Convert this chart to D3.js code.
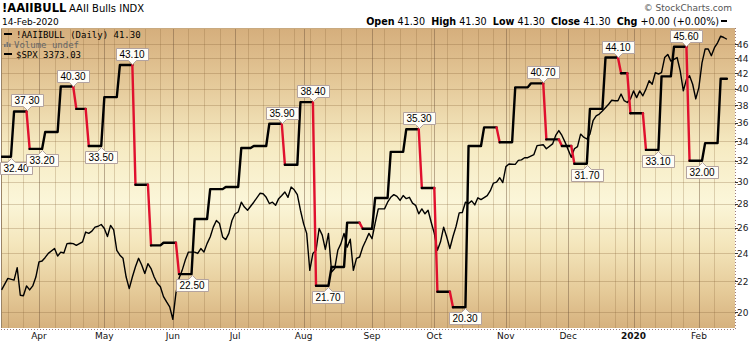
<!DOCTYPE html>
<html>
<head>
<meta charset="utf-8">
<script src="https://cdn.jsdelivr.net/npm/d3@7"></script>
<style>
  body { margin: 0; background: #fff; }
  svg { display: block; font-family: "DejaVu Sans", Verdana, sans-serif; }
</style>
</head>
<body>
<svg id="chart" width="752" height="342"></svg>
<script>
// AAII bullish % readings, dated the way the chart plots them
var aaiiDates = ["2019-03-13","2019-03-20","2019-03-27","2019-04-03","2019-04-10","2019-04-17","2019-04-24",
  "2019-05-01","2019-05-08","2019-05-15","2019-05-22","2019-05-29","2019-06-05","2019-06-12","2019-06-19",
  "2019-06-26","2019-07-03","2019-07-10","2019-07-17","2019-07-24","2019-07-31","2019-08-07","2019-08-14",
  "2019-08-21","2019-08-28","2019-09-04","2019-09-11","2019-09-18","2019-09-25","2019-10-02","2019-10-09",
  "2019-10-16","2019-10-23","2019-10-30","2019-11-06","2019-11-13","2019-11-20","2019-11-27","2019-12-04",
  "2019-12-11","2019-12-18","2019-12-26","2019-12-31","2020-01-08","2020-01-15","2020-01-22","2020-01-29",
  "2020-02-05","2020-02-12"];
var aaiiValues = [32.4,37.3,33.2,35.0,40.3,37.6,33.5,
  39.0,43.1,29.7,24.6,24.8,22.5,26.7,29.3,
  29.5,33.3,33.5,35.9,31.6,38.4,21.7,23.0,
  26.4,25.9,28.5,32.9,35.3,29.4,21.3,20.3,
  33.5,35.5,33.9,40.2,40.7,34.2,33.5,31.7,
  37.6,44.1,42.0,37.1,33.1,41.6,45.6,32.0,
  33.8,41.3];

// readings that carry a value flag
var peakDates = ["2019-03-20","2019-04-10","2019-05-08","2019-07-17","2019-07-31","2019-09-18","2019-11-13","2019-12-18","2020-01-22"];
var troughDates = ["2019-03-13","2019-03-27","2019-04-24","2019-06-05","2019-08-07","2019-10-09","2019-12-04","2020-01-08","2020-01-29"];

// S&P 500 overlay (closes)
var spxDates = ["2019-03-14","2019-03-18","2019-03-20","2019-03-21","2019-03-22","2019-03-25","2019-03-26","2019-03-27",
  "2019-03-28","2019-03-29","2019-04-01","2019-04-02","2019-04-03","2019-04-04","2019-04-08","2019-04-09","2019-04-10",
  "2019-04-11","2019-04-12","2019-04-15","2019-04-16","2019-04-17","2019-04-18","2019-04-22","2019-04-23","2019-04-24",
  "2019-04-25","2019-04-26","2019-04-29","2019-04-30","2019-05-01","2019-05-02","2019-05-03","2019-05-06","2019-05-07",
  "2019-05-08","2019-05-09","2019-05-10","2019-05-13","2019-05-14","2019-05-15","2019-05-16","2019-05-17","2019-05-20",
  "2019-05-21","2019-05-22","2019-05-23","2019-05-24","2019-05-28","2019-05-29","2019-05-30","2019-05-31","2019-06-03",
  "2019-06-04","2019-06-05","2019-06-06","2019-06-07","2019-06-10","2019-06-12","2019-06-13","2019-06-14","2019-06-17",
  "2019-06-18","2019-06-19","2019-06-20","2019-06-21","2019-06-24","2019-06-25","2019-06-26","2019-06-27","2019-06-28",
  "2019-07-01","2019-07-02","2019-07-03","2019-07-05","2019-07-08","2019-07-10","2019-07-12","2019-07-15","2019-07-16",
  "2019-07-17","2019-07-18","2019-07-19","2019-07-22","2019-07-23","2019-07-24","2019-07-25","2019-07-26","2019-07-29",
  "2019-07-30","2019-07-31","2019-08-01","2019-08-02","2019-08-05","2019-08-06","2019-08-07","2019-08-08","2019-08-09",
  "2019-08-12","2019-08-13","2019-08-14","2019-08-15","2019-08-16","2019-08-19","2019-08-20","2019-08-21","2019-08-22",
  "2019-08-23","2019-08-26","2019-08-27","2019-08-28","2019-08-29","2019-08-30","2019-09-03","2019-09-04","2019-09-05",
  "2019-09-09","2019-09-10","2019-09-11","2019-09-12","2019-09-13","2019-09-16","2019-09-17","2019-09-18","2019-09-19",
  "2019-09-20","2019-09-23","2019-09-24","2019-09-25","2019-09-26","2019-09-27","2019-09-30","2019-10-01","2019-10-02",
  "2019-10-03","2019-10-04","2019-10-07","2019-10-08","2019-10-09","2019-10-10","2019-10-11","2019-10-14","2019-10-15",
  "2019-10-16","2019-10-17","2019-10-18","2019-10-21","2019-10-22","2019-10-24","2019-10-25","2019-10-28","2019-10-29",
  "2019-10-30","2019-10-31","2019-11-01","2019-11-04","2019-11-06","2019-11-07","2019-11-08","2019-11-11","2019-11-12",
  "2019-11-14","2019-11-15","2019-11-19","2019-11-20","2019-11-22","2019-11-25","2019-11-26","2019-11-27","2019-11-29",
  "2019-12-03","2019-12-04","2019-12-05","2019-12-06","2019-12-09","2019-12-10","2019-12-11","2019-12-12","2019-12-13",
  "2019-12-16","2019-12-17","2019-12-19","2019-12-20","2019-12-23","2019-12-24","2019-12-26","2019-12-27","2019-12-30",
  "2019-12-31","2020-01-02","2020-01-03","2020-01-06","2020-01-07","2020-01-08","2020-01-09","2020-01-10","2020-01-13",
  "2020-01-14","2020-01-15","2020-01-16","2020-01-17","2020-01-21","2020-01-22","2020-01-23","2020-01-24","2020-01-27",
  "2020-01-28","2020-01-29","2020-01-30","2020-01-31","2020-02-03","2020-02-04","2020-02-05","2020-02-06","2020-02-07",
  "2020-02-10","2020-02-11","2020-02-12","2020-02-13","2020-02-14"];
var spxValues = [2810,2836,2832,2860,2798,2797,2819,2810,
  2819,2839,2873,2875,2883,2892,2903,2886,2895,
  2893,2914,2915,2914,2910,2914,2918,2940,2937,
  2942,2951,2953,2957,2948,2930,2955,2945,2899,
  2888,2881,2839,2813,2839,2862,2881,2866,2847,
  2869,2858,2839,2825,2817,2795,2783,2772,2744,
  2803,2836,2854,2877,2895,2895,2892,2903,2895,
  2914,2929,2951,2966,2959,2929,2923,2937,2966,
  2981,2985,3007,2996,2989,3007,3027,3026,3018,
  3004,3007,3000,3015,3022,3030,3018,3041,3035,
  3024,2989,2959,2937,2854,2892,2899,2948,2933,
  2901,2937,2850,2858,2899,2914,2937,2906,2924,
  2854,2881,2884,2906,2921,2937,2925,2960,2992,
  2992,3007,3018,3024,3020,3011,3022,3015,3018,
  3005,3000,2981,2992,2981,2989,2962,2937,2899,
  2918,2951,2929,2903,2930,2953,2983,2984,3007,
  3004,3010,3001,3017,3013,3022,3033,3050,3052,
  3062,3051,3087,3093,3092,3101,3102,3107,3107,
  3114,3134,3136,3127,3138,3157,3168,3157,3142,
  3108,3127,3132,3160,3153,3149,3160,3190,3201,
  3205,3212,3227,3236,3235,3235,3250,3235,3231,
  3239,3257,3242,3257,3246,3261,3280,3272,3298,
  3295,3298,3332,3339,3324,3328,3332,3302,3257,
  3283,3291,3272,3239,3265,3320,3351,3351,3336,
  3354,3365,3380,3377,3373];

var holidays = ["2019-04-19","2019-05-27","2019-07-04","2019-09-02","2019-11-28","2019-12-25","2020-01-01","2020-01-20"];
var monthLabels = ["Apr","May","Jun","Jul","Aug","Sep","Oct","Nov","Dec","2020","Feb"];
var yTicks = [20,22,24,26,28,30,32,34,36,38,40,42,44,46];

var width = 752, height = 342;
var plot = {left: 1, right: 735, top: 28, bottom: 328};

var parse = d3.timeParse("%Y-%m-%d"), fmt = d3.timeFormat("%Y-%m-%d");

// trading days
var days = [];
for (var d = parse("2019-03-14"); d <= parse("2020-02-14"); d = d3.timeDay.offset(d, 1)) {
  var s = fmt(d), wd = d.getDay();
  if (wd > 0 && wd < 6 && holidays.indexOf(s) < 0) days.push(s);
}
var dayIndex = {};
days.forEach(function(s, i) { dayIndex[s] = i; });

var x = d3.scaleLinear().domain([-0.2, 235.6]).range([plot.left, plot.right]);
var y = d3.scaleLog().domain([20, 46]).range([312, 44]);
var ySpx = d3.scaleLinear().domain([2724.5, 3398.3]).range([plot.bottom, plot.top]);

var aaiiDaily = days.map(function(s) {
  return aaiiValues[d3.bisectRight(aaiiDates, s) - 1];
});

var svg = d3.select("#chart");
var defs = svg.append("defs");
var grad = defs.append("linearGradient").attr("id", "bg")
  .attr("x1", 0).attr("y1", 0).attr("x2", 0).attr("y2", 1);
[[0, "#d5ae7c"], [0.18, "#e4c898"], [0.4, "#f6ebc3"], [0.58, "#fbf6d9"], [0.72, "#f4e6bc"], [0.88, "#e5ca98"], [1, "#d6b17e"]]
  .forEach(function(st) { grad.append("stop").attr("offset", st[0]).attr("stop-color", st[1]); });
defs.append("clipPath").attr("id", "clip").append("rect")
  .attr("x", plot.left).attr("y", plot.top)
  .attr("width", plot.right - plot.left).attr("height", plot.bottom - plot.top);

svg.append("rect")
  .attr("x", plot.left).attr("y", plot.top)
  .attr("width", plot.right - plot.left).attr("height", plot.bottom - plot.top)
  .attr("fill", "url(#bg)");

// grid
var grid = svg.append("g").attr("clip-path", "url(#clip)");
grid.selectAll(".hg").data(yTicks).enter().append("line")
  .attr("x1", plot.left).attr("x2", plot.right)
  .attr("y1", function(v) { return Math.round(y(v)) + 0.5; })
  .attr("y2", function(v) { return Math.round(y(v)) + 0.5; })
  .attr("stroke", "rgba(130,95,50,0.28)");

var weekStarts = [], monthStarts = [];
days.forEach(function(s, i) {
  if (i === 0) return;
  var a = parse(days[i - 1]), b = parse(s);
  if (b.getMonth() !== a.getMonth()) monthStarts.push(i);
  else if (b.getDay() <= a.getDay()) weekStarts.push(i);
});
grid.selectAll(".wg").data(weekStarts).enter().append("line")
  .attr("x1", function(i) { return Math.round(x(i)) + 0.5; })
  .attr("x2", function(i) { return Math.round(x(i)) + 0.5; })
  .attr("y1", plot.top).attr("y2", plot.bottom)
  .attr("stroke", "rgba(130,95,50,0.25)");
grid.selectAll(".mg").data(monthStarts).enter().append("line")
  .attr("x1", function(i) { return Math.round(x(i)) + 0.5; })
  .attr("x2", function(i) { return Math.round(x(i)) + 0.5; })
  .attr("y1", plot.top).attr("y2", plot.bottom)
  .attr("stroke", "rgba(110,85,60,0.45)");

// plot frame
svg.append("line").attr("x1", plot.left + 0.5).attr("x2", plot.left + 0.5)
  .attr("y1", plot.top).attr("y2", plot.bottom).attr("stroke", "#9a8466");
svg.append("line").attr("x1", plot.left).attr("x2", plot.right)
  .attr("y1", plot.top + 0.5).attr("y2", plot.top + 0.5).attr("stroke", "#c9aa80");
svg.append("line").attr("x1", plot.left).attr("x2", plot.right)
  .attr("y1", plot.bottom + 1.5).attr("y2", plot.bottom + 1.5)
  .attr("stroke", "#9a7a7a").attr("stroke-dasharray", "1,2");
svg.append("line").attr("x1", plot.right + 0.5).attr("x2", plot.right + 0.5)
  .attr("y1", plot.top).attr("y2", plot.bottom + 2)
  .attr("stroke", "#9a7a7a").attr("stroke-dasharray", "1,2");

var lines = svg.append("g").attr("clip-path", "url(#clip)");

// SPX overlay
var spxLine = d3.line()
  .x(function(d, i) { return x(dayIndex[spxDates[i]]); })
  .y(function(d) { return ySpx(d); });
lines.append("path").datum(spxValues)
  .attr("d", spxLine)
  .attr("fill", "none").attr("stroke", "#000").attr("stroke-width", 1.4)
  .attr("stroke-linejoin", "round");

// AAII line, red where falling
var runs = [], cur = null;
for (var i = 1; i < days.length; i++) {
  var col = aaiiDaily[i] < aaiiDaily[i - 1] ? "#e0102e" : "#000";
  if (!cur || cur.col !== col) { cur = {col: col, pts: [i - 1]}; runs.push(cur); }
  cur.pts.push(i);
}
var aaiiLine = d3.line()
  .x(function(i) { return x(i); })
  .y(function(i) { return y(aaiiDaily[i]); });
lines.selectAll(".aaii").data(runs).enter().append("path")
  .attr("d", function(r) { return aaiiLine(r.pts); })
  .attr("fill", "none")
  .attr("stroke", function(r) { return r.col; })
  .attr("stroke-width", 2.4)
  .attr("stroke-linejoin", "round").attr("stroke-linecap", "round");

// value flags
function flagInfo(dt, up) {
  var k = aaiiDates.indexOf(dt);
  var endIdx = dayIndex[aaiiDates[k + 1]] - 1;
  return {i: endIdx, v: aaiiValues[k], up: up};
}
var flags = peakDates.map(function(dt) { return flagInfo(dt, true); })
  .concat(troughDates.map(function(dt) { return flagInfo(dt, false); }));

var fg = svg.append("g");
flags.forEach(function(f) {
  var cx = Math.round(x(f.i)), py = Math.round(y(f.v));
  var g = fg.append("g");
  var t = g.append("text").text(f.v.toFixed(2))
    .attr("font-family", "'Liberation Sans', Arial, sans-serif")
    .attr("font-size", 10).attr("text-anchor", "middle").attr("fill", "#000");
  var w = Math.ceil(t.node().getComputedTextLength()) + 6, h = 12;
  // keep the box inside the picture
  var l = Math.max(0, cx - w / 2), r = l + w, tx = (l + r) / 2, p;
  if (f.up) {
    var bot = py - 5, top = bot - h;
    p = "M" + l + "," + top + "H" + r + "V" + bot + "H" + (cx + 4) + "L" + cx + "," + (py - 1) +
        "L" + (cx - 4) + "," + bot + "H" + l + "Z";
    t.attr("x", tx).attr("y", bot - 2.5);
  } else {
    var tp = py + 5, bt = tp + h;
    p = "M" + l + "," + bt + "H" + r + "V" + tp + "H" + (cx + 4) + "L" + cx + "," + (py + 1) +
        "L" + (cx - 4) + "," + tp + "H" + l + "Z";
    t.attr("x", tx).attr("y", bt - 2.5);
  }
  g.insert("path", "text").attr("d", p)
    .attr("transform", "translate(0.5,0.5)")
    .attr("fill", "#fffdf6").attr("stroke", "#b3a3a0");
});

// y axis (right)
var ya = svg.append("g");
ya.selectAll("line").data(yTicks).enter().append("line")
  .attr("x1", plot.right).attr("x2", plot.right + 3)
  .attr("y1", function(v) { return Math.round(y(v)) + 0.5; })
  .attr("y2", function(v) { return Math.round(y(v)) + 0.5; })
  .attr("stroke", "#333");
ya.selectAll("text").data(yTicks).enter().append("text")
  .attr("x", plot.right + 2).attr("y", function(v) { return y(v) + 3.5; })
  .attr("font-size", 9).attr("fill", "#222")
  .text(function(v) { return v; });

// x axis month labels
svg.selectAll(".ml").data(monthStarts).enter().append("text")
  .attr("x", function(i) { return x(i); }).attr("y", 339)
  .attr("text-anchor", "middle").attr("font-size", 9).attr("fill", "#111")
  .attr("font-weight", function(i, k) { return monthLabels[k] === "2020" ? "bold" : "normal"; })
  .text(function(i, k) { return monthLabels[k]; });

// header
svg.append("text").attr("x", 2).attr("y", 12).attr("font-size", 11.5).attr("font-weight", "bold").text("!AAIIBULL");
svg.append("text").attr("x", 69).attr("y", 12).attr("font-size", 10).text("AAII Bulls INDX");
svg.append("text").attr("x", 2).attr("y", 25).attr("font-size", 9).text("14-Feb-2020");
svg.append("text").attr("x", 732).attr("y", 10.5).attr("font-size", 9).attr("fill", "#555")
  .attr("text-anchor", "end").text("\u00a9 StockCharts.com");

var ohlc = svg.append("text").attr("x", 719).attr("y", 25).attr("font-size", 9.6).attr("text-anchor", "end");
[["Open", " 41.30  "], ["High", " 41.30  "], ["Low", " 41.30  "], ["Close", " 41.30  "], ["Chg", " +0.00 (+0.00%)"]]
  .forEach(function(p) {
    ohlc.append("tspan").attr("font-weight", "bold").text(p[0]);
    ohlc.append("tspan").attr("xml:space", "preserve").style("white-space", "pre").text(p[1]);
  });
svg.append("rect").attr("x", 721).attr("y", 20).attr("width", 6).attr("height", 2).attr("fill", "#000");

// legend
var lg = svg.append("g").attr("font-family", "'DejaVu Sans Mono', monospace").attr("font-size", 9);
lg.append("rect").attr("x", 4).attr("y", 33).attr("width", 8).attr("height", 2).attr("fill", "#000");
lg.append("text").attr("x", 16).attr("y", 37.5).text("!AAIIBULL (Daily) 41.30");
[[4, 3], [6.5, 5], [9, 3.5]].forEach(function(b) {
  lg.append("rect").attr("x", b[0]).attr("y", 47 - b[1]).attr("width", 1.7).attr("height", b[1]).attr("fill", "#777");
});
lg.append("text").attr("x", 14).attr("y", 47.5).attr("fill", "#666").text("Volume undef");
lg.append("rect").attr("x", 4).attr("y", 53).attr("width", 8).attr("height", 2).attr("fill", "#000");
lg.append("text").attr("x", 16).attr("y", 57.5).text("$SPX 3373.03");
</script>
</body>
</html>
